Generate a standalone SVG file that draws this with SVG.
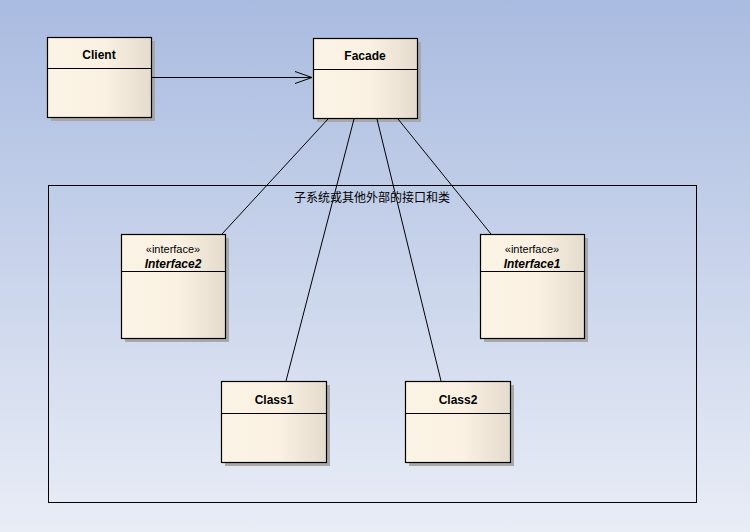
<svg xmlns="http://www.w3.org/2000/svg" width="750" height="532" viewBox="0 0 750 532">
<defs>
<linearGradient id="bg" x1="0" y1="0" x2="0" y2="1">
<stop offset="0" stop-color="#a9bbe0"/>
<stop offset="1" stop-color="#e9edf6"/>
</linearGradient>
<linearGradient id="nf" x1="0" y1="0" x2="1" y2="0">
<stop offset="0" stop-color="#fbf3e5"/>
<stop offset="0.55" stop-color="#faf1e2"/>
<stop offset="1" stop-color="#e4dbcc"/>
</linearGradient>
<marker id="open" markerWidth="20" markerHeight="14" refX="17" refY="7" orient="auto" markerUnits="userSpaceOnUse">
<path d="M0,1 L17,7 L0,13" fill="none" stroke="#000" stroke-width="1"/>
</marker>
</defs>
<style>
.box{fill:url(#nf);stroke:#000;stroke-width:1.2}
.sh{fill:#a8a8a8}
.sep{stroke:#000;stroke-width:1.2}
.t{font-family:"Liberation Sans",Arial,sans-serif;font-size:12px;font-weight:bold;text-anchor:middle;fill:#000}
.st{font-family:"Liberation Sans",Arial,sans-serif;font-size:11px;text-anchor:middle;fill:#000}
.it{font-family:"Liberation Sans",Arial,sans-serif;font-size:12px;font-weight:bold;font-style:italic;text-anchor:middle;fill:#000}
.c{stroke:#000;stroke-width:1;fill:none}
</style>
<rect x="0" y="0" width="750" height="532" fill="url(#bg)"/>
<g id="subsystem">
<rect x="48.5" y="185.5" width="648" height="317" fill="none" stroke="#000" stroke-width="1"/>
<text x="372" y="202" font-family="'Noto Sans CJK SC',sans-serif" font-size="12" text-anchor="middle" fill="#000">子系统或其他外部的接口和类</text>
</g>
<g id="client">
<rect class="sh" x="51" y="41" width="104" height="80"/>
<rect class="box" x="47.5" y="37.5" width="104" height="80"/>
<line class="sep" x1="47.5" y1="68.5" x2="151.5" y2="68.5"/>
<text class="t" x="99" y="59">Client</text>
</g>
<g id="facade">
<rect class="sh" x="317" y="42" width="104" height="80"/>
<rect class="box" x="313.5" y="38.5" width="104" height="80"/>
<line class="sep" x1="313.5" y1="69.5" x2="417.5" y2="69.5"/>
<text class="t" x="365" y="60">Facade</text>
</g>
<g id="interface2">
<rect class="sh" x="125" y="238" width="104" height="104"/>
<rect class="box" x="121.5" y="234.5" width="104" height="104"/>
<line class="sep" x1="121.5" y1="271.5" x2="225.5" y2="271.5"/>
<text class="st" x="173" y="253">«interface»</text>
<text class="it" x="173" y="268">Interface2</text>
</g>
<g id="interface1">
<rect class="sh" x="484" y="238" width="104" height="104"/>
<rect class="box" x="480.5" y="234.5" width="104" height="104"/>
<line class="sep" x1="480.5" y1="271.5" x2="584.5" y2="271.5"/>
<text class="st" x="532" y="253">«interface»</text>
<text class="it" x="532" y="268">Interface1</text>
</g>
<g id="class1">
<rect class="sh" x="225" y="385" width="105" height="81"/>
<rect class="box" x="221.5" y="381.5" width="105" height="81"/>
<line class="sep" x1="221.5" y1="413.5" x2="326.5" y2="413.5"/>
<text class="t" x="274" y="404">Class1</text>
</g>
<g id="class2">
<rect class="sh" x="409" y="385" width="105" height="81"/>
<rect class="box" x="405.5" y="381.5" width="105" height="81"/>
<line class="sep" x1="405.5" y1="413.5" x2="510.5" y2="413.5"/>
<text class="t" x="458" y="404">Class2</text>
</g>
<g id="connectors">
<line class="c" x1="152" y1="77.5" x2="312" y2="77.5" marker-end="url(#open)"/>
<line class="c" x1="328" y1="119" x2="222" y2="234"/>
<line class="c" x1="354" y1="119" x2="286" y2="381"/>
<line class="c" x1="377" y1="119" x2="441" y2="381"/>
<line class="c" x1="398" y1="119" x2="491" y2="234"/>
</g>
</svg>
